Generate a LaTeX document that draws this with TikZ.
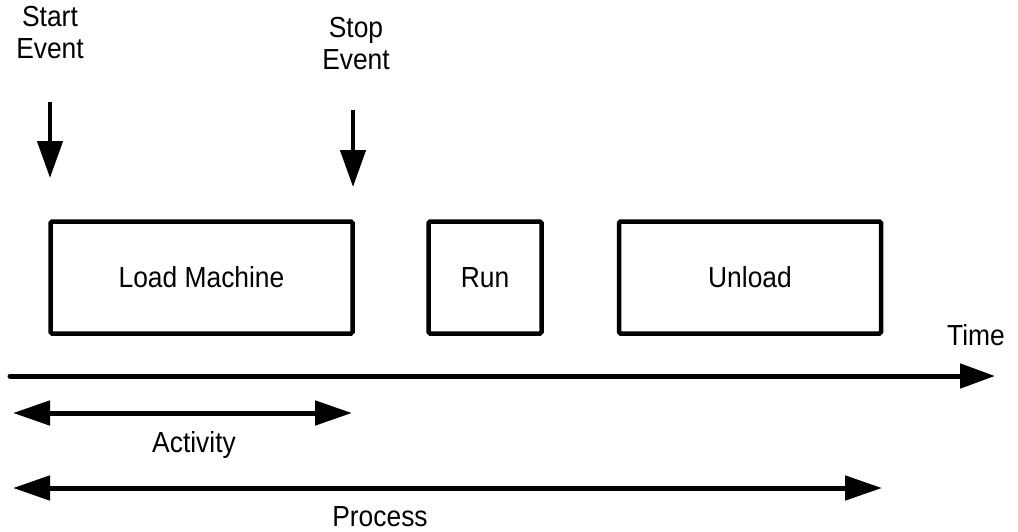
\documentclass[tikz,border=0pt]{standalone}
\usepackage{fontspec}
\setmainfont{Liberation Sans}[FakeStretch=0.91]
\usetikzlibrary{arrows.meta}
\begin{document}
\begin{tikzpicture}[x=1pt,y=-1pt,
  txt/.style={inner sep=0pt,font=\fontsize{29}{32}\selectfont,align=center},
  taskbox/.style={draw,line width=4.5pt,rounded corners=1.5pt,inner sep=0pt,
    font=\fontsize{29}{32}\selectfont},
  evarrow/.style={line width=4.5pt,-{Triangle[length=37pt,width=25pt]}},
  span/.style={line width=5pt,{Triangle[length=37pt,width=24pt]}-{Triangle[length=37pt,width=24pt]}},
  axis/.style={line width=5pt,line cap=round,-{Triangle[length=35pt,width=24pt]}}]
\useasboundingbox (0,0) rectangle (1018,531);
% event labels
\node[txt] (startlbl) at (50,33) {Start\\Event};
\node[txt] (stoplbl) at (356,44) {Stop\\Event};
% event arrows
\coordinate (s1) at (50,102);
\coordinate (s2) at (50,178);
\coordinate (e1) at (353,110);
\coordinate (e2) at (353,187);
\draw[evarrow] (s1) -- (s2);
\draw[evarrow] (e1) -- (e2);
% boxes
\node[taskbox,minimum width=302pt,minimum height=112pt] (load) at (201.5,277.5) {Load Machine};
\node[taskbox,minimum width=113pt,minimum height=112pt] (run) at (485,277.5) {Run};
\node[taskbox,minimum width=262pt,minimum height=112pt] (unload) at (750,277.5) {Unload};
% time axis
\node[txt,anchor=base] (time) at (976,345) {Time};
\coordinate (t1) at (10,376);
\coordinate (t2) at (995,376);
\draw[axis] (t1) -- (t2);
% activity
\coordinate (a1) at (13,413);
\coordinate (a2) at (352,413);
\draw[span] (a1) -- (a2);
\node[txt,anchor=base] (activity) at (194,452) {Activity};
% process
\coordinate (p1) at (13,488);
\coordinate (p2) at (882,488);
\draw[span] (p1) -- (p2);
\node[txt,anchor=base] (process) at (380,526.5) {Process};
\end{tikzpicture}
\end{document}
